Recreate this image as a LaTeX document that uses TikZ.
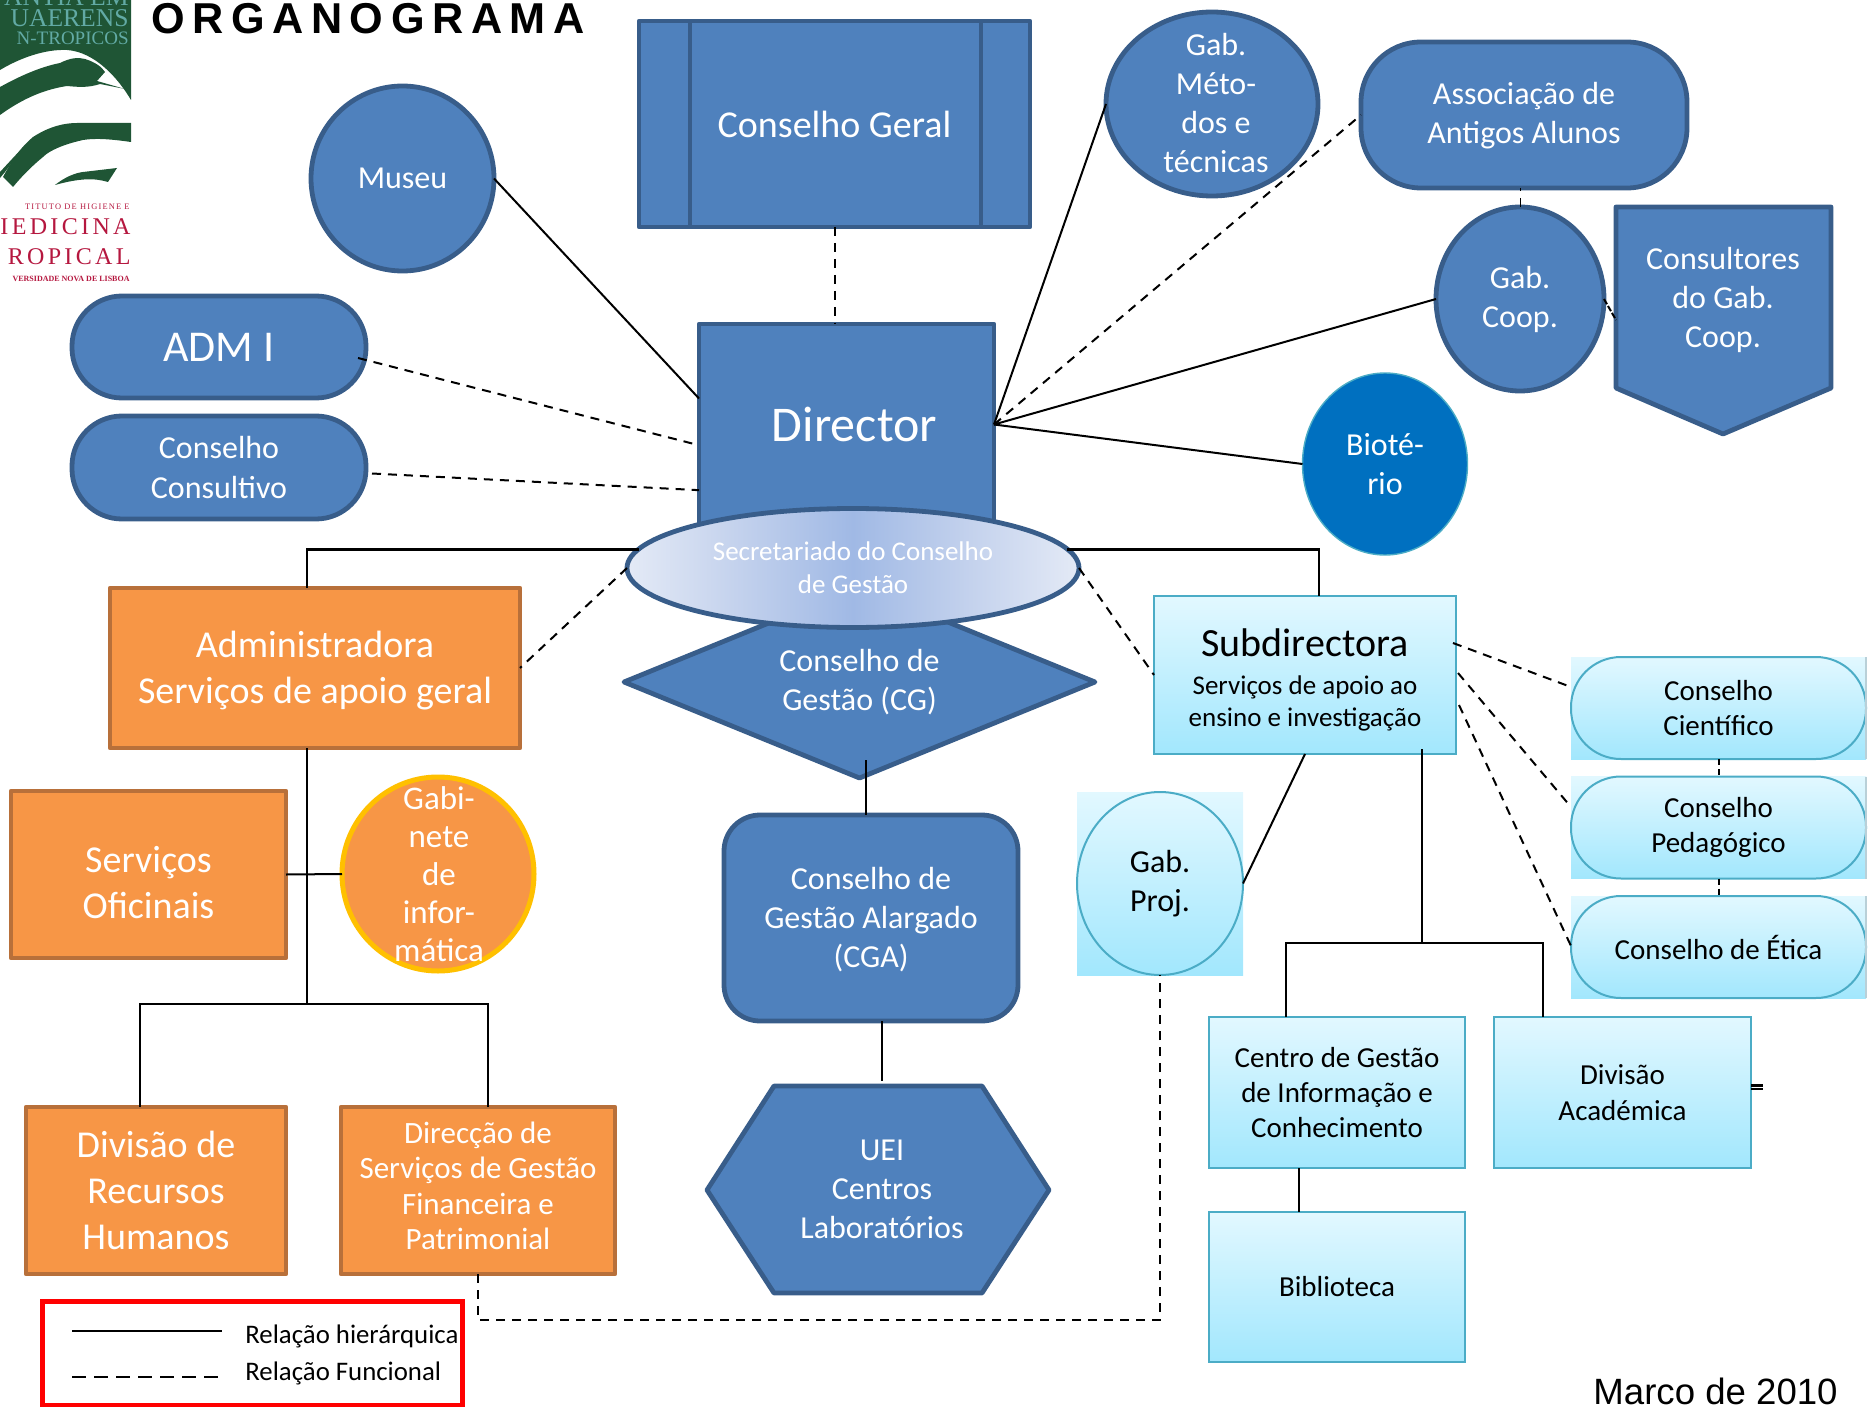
\documentclass[tikz,border=0pt]{standalone}
\usepackage{fontspec}
\setmainfont{Carlito}
\newfontfamily\arialf{Liberation Sans}
\newfontfamily\arialtitle[LetterSpace=17.5]{Liberation Sans}
\newfontfamily\seriff{Liberation Serif}
\newfontfamily\serifs[LetterSpace=14]{Liberation Serif}
\usetikzlibrary{shapes.geometric,calc}
\definecolor{bluefill}{HTML}{4F81BD}
\definecolor{blueedge}{HTML}{385D8A}
\definecolor{orangefill}{HTML}{F79646}
\definecolor{orangeedge}{HTML}{B8703A}
\definecolor{cyanedge}{HTML}{4BACC6}
\definecolor{cyantop}{HTML}{E2F8FF}
\definecolor{cyanbot}{HTML}{A2E7FD}
\definecolor{logogreen}{HTML}{1F5535}
\definecolor{logoteal}{HTML}{62AAA5}
\definecolor{logored}{HTML}{B5173F}
\definecolor{secmid}{HTML}{A0B9E5}
\definecolor{secq}{HTML}{C4D2ED}
\definecolor{secend}{HTML}{E4EAF6}
\definecolor{biofill}{HTML}{0070C0}
\definecolor{infedge}{HTML}{FFC000}
\definecolor{sliver}{HTML}{B9D0D8}
\pgfdeclarehorizontalshading{secshade}{100bp}{color(0bp)=(secend); color(25bp)=(secend); color(37bp)=(secq); color(50bp)=(secmid); color(63bp)=(secq); color(75bp)=(secend); color(100bp)=(secend)}
\newcommand{\fsz}[1]{\fontsize{#1}{\dimexpr #1pt*122/100\relax}\selectfont}
\tikzset{
  px/.style 2 args={minimum width=#1*0.5pt,minimum height=#2*0.5pt,inner sep=0pt,outer sep=0pt},
  bluebox/.style={draw=blueedge,fill=bluefill,line width=2.4pt,text=white,align=center,line join=round},
  orangebox/.style={draw=orangeedge,fill=orangefill,line width=2.2pt,text=white,align=center,line join=round},
  cyanbox/.style={draw=cyanedge,line width=1pt,top color=cyantop,bottom color=cyanbot,text=black,align=center},
  cyanback/.style={top color=cyantop,bottom color=cyanbot},
  cyanring/.style={draw=cyanedge,line width=1pt,text=black,align=center},
  whitetext/.style={text=white,align=center,inner sep=0pt},
  solidline/.style={draw=black,line width=1pt},
  thickline/.style={draw=black,line width=1.4pt},
  dashline/.style={draw=black,line width=1pt,dash pattern=on 4.5pt off 3.5pt},
}
\begin{document}
\begin{tikzpicture}[x=0.5pt,y=-0.5pt,font=\fsz{16}]
\useasboundingbox (0,0) rectangle (1874,1407);
% logo
\begin{scope}
\clip (0,0) rectangle (131,285);
\fill[logogreen] (0,0) -- (131,0) -- (131,100) .. controls (118,78) and (95,52) .. (67,50) .. controls (45,49) and (20,58) .. (0,70) -- cycle;
\fill[logogreen] (0,87) .. controls (20,76) and (40,67) .. (60,63) .. controls (70,58) and (78,57) .. (85,59) .. controls (95,62) and (102,67) .. (105,72) -- (97,81) -- (125,89) -- (100,84) .. controls (88,88) and (78,87) .. (67,86) .. controls (40,90) and (18,102) .. (0,115) -- cycle;
\fill[logogreen] (3,177) .. controls (12,160) and (22,146) .. (33,137) .. controls (50,126) and (65,123) .. (77,123) -- (131,123) -- (131,142) .. controls (110,139) and (95,138) .. (83,140) .. controls (65,144) and (50,150) .. (43,157) .. controls (32,166) and (22,176) .. (13,187) -- cycle;
\fill[logogreen] (0,172) -- (25,145) -- (5,172) -- (0,178) -- cycle;
\fill[logogreen] (55,185) .. controls (65,177) and (75,173) .. (83,172) -- (117,168) -- (108,182) .. controls (95,178) and (80,178) .. (55,185) -- cycle;
\node[anchor=east,text=logoteal,inner sep=0pt,font=\seriff\fontsize{12.8}{13}\selectfont] (lg1) at (129,-3) {ANTIA EM};
\node[anchor=east,text=logoteal,inner sep=0pt,font=\seriff\fontsize{12.8}{13}\selectfont] (lg2) at (129,18) {UAERENS};
\node[anchor=east,text=logoteal,inner sep=0pt,font=\seriff\fontsize{9.5}{10}\selectfont] (lg3) at (129,38) {N-TROPICOS};
\node[anchor=east,text=logored,inner sep=0pt,font=\serifs\fontsize{4.2}{5}\selectfont] (lg4) at (130,207) {TITUTO DE HIGIENE E};
\node[anchor=east,text=logored,inner sep=0pt,font=\serifs\fontsize{12}{13}\selectfont] (lg5) at (131,227) {IEDICINA};
\node[anchor=east,text=logored,inner sep=0pt,font=\serifs\fontsize{12}{13}\selectfont] (lg6) at (131,257) {ROPICAL};
\node[anchor=east,text=logored,inner sep=0pt,font=\seriff\bfseries\fontsize{4}{5}\selectfont] (lg7) at (130,279) {VERSIDADE NOVA DE LISBOA};
\end{scope}
% title and date
\node[anchor=west,inner sep=0pt,font=\arialtitle\bfseries\fontsize{21.6}{24}\selectfont] (title) at (151,19) {ORGANOGRAMA};
\node[anchor=east,inner sep=0pt,font=\arialf\fontsize{18.3}{20}\selectfont] (date) at (1838,1391) {Marco de 2010};
% upper group
\node[bluebox,px={391}{206},font=\fsz{19}] (geral) at (834.5,124) {Conselho Geral};
\draw[blueedge,line width=2.4pt] (690,21) -- (690,227) (981,21) -- (981,227);
\node[bluebox,px={295}{201},font=\fsz{25}] (dir) at (846.5,424.5) {\hspace*{8pt}Director};
\node[bluebox,diamond,aspect=2.45,px={471}{192},font=\fsz{16}] (cg) at (859.5,682) {Conselho de\\Gestão (CG)};
\node[ellipse,draw=blueedge,line width=2.4pt,shading=secshade,text=white,align=center,px={452}{119},font=\fsz{13.5}] (sec) at (853,568) {Secretariado do Conselho\\de Gestão};
\node[bluebox,rounded corners=18pt,px={294}{206}] (cga) at (871,918) {\rule{0pt}{13pt}Conselho de\\Gestão Alargado\\(CGA)};
\fill[bluefill,draw=blueedge,line width=2.4pt,line join=round] (707,1190) -- (774,1086) -- (982,1086) -- (1049,1190) -- (982,1293) -- (774,1293) -- cycle;
\node[whitetext,px={200}{150}] (uei) at (882,1189) {UEI\\Centros\\Laboratórios};
\node[bluebox,ellipse,px={183}{185}] (museu) at (402.5,178.5) {Museu};
\node[bluebox,ellipse,px={212}{184}] (gabmet) at (1212,104) {};
\node[whitetext] (gabmettxt) at (1216,103) {Gab.\\Méto-\\dos e\\técnicas};
\node[bluebox,rounded corners=30pt,px={326}{146}] (assoc) at (1524,115) {\rule{0pt}{12pt}Associação de\\Antigos Alunos};
\node[bluebox,ellipse,px={168}{184}] (gabcoop) at (1520,299) {Gab.\\Coop.};
\fill[bluefill,draw=blueedge,line width=2.4pt,line join=round] (1616,207) -- (1831,207) -- (1831,388) -- (1723,434) -- (1616,388) -- cycle;
\node[whitetext,px={200}{150}] (cons) at (1723,300) {Consultores\\do Gab.\\Coop.};
\node[ellipse,draw=cyanedge,fill=biofill,line width=0.7pt,px={165}{182},text=white,align=center] (bio) at (1385,464) {Bioté-\\rio};
\node[bluebox,rounded corners=25pt,px={294}{102},font=\fsz{22}] (adm) at (219,347) {ADM I};
\node[bluebox,rounded corners=25pt,px={294}{103}] (ccons) at (219,467.5) {Conselho\\Consultivo};
% orange
\node[orangebox,px={410}{160},font=\fsz{19}] (admin) at (315,668) {\rule{0pt}{16pt}Administradora\\Serviços de apoio geral};
\node[orangebox,px={275}{167},font=\fsz{19}] (serv) at (148.5,874.5) {\rule{0pt}{21pt}Serviços\\Oficinais};
\node[ellipse,draw=infedge,fill=orangefill,line width=2.5pt,px={192}{194}] (gabinf) at (438,874) {};
\node[whitetext,font=\fontsize{16.5}{19}\selectfont] (gabinftxt) at (439,874) {Gabi-\\nete\\de\\infor-\\mática};
\node[orangebox,px={260}{167},font=\fsz{19}] (rh) at (156,1190.5) {Divisão de\\Recursos\\Humanos};
\node[orangebox,px={274}{167}] (dsg) at (478,1190.5) {};
\node[whitetext,font=\fontsize{15.5}{17.7}\selectfont] (dsgtxt) at (478,1186) {Direcção de\\Serviços de Gestão\\Financeira e\\Patrimonial};
% cyan
\node[cyanbox,px={302}{158},font=\fontsize{13.5}{16}\selectfont] (sub) at (1305,675) {\rule{0pt}{19pt}{\fsz{20}Subdirectora}\\[3pt]Serviços de apoio ao\\ensino e investigação};
\node[cyanback,px={166}{183}] (projback) at (1160,883.5) {};
\node[cyanring,ellipse,px={166}{183}] (proj) at (1160,883.5) {Gab.\\Proj.};
\node[cyanback,px={295}{102}] (cb1) at (1718.5,708) {};
\node[cyanring,rounded corners=25pt,px={295}{102},font=\fsz{14.5}] (cient) at (1718.5,708) {Conselho\\Científico};
\node[cyanback,px={295}{102}] (cb2) at (1718.5,827.5) {};
\node[cyanring,rounded corners=25pt,px={295}{102},font=\fsz{14.5}] (ped) at (1718.5,827.5) {Conselho\\Pedagógico};
\node[cyanback,px={295}{102}] (cb3) at (1718.5,947) {};
\node[cyanring,rounded corners=25pt,px={295}{102},font=\fsz{14.5}] (etica) at (1718.5,947) {Conselho de Ética};
\draw[sliver,line width=0.8pt] (cb1.north east) -- (cb1.south east) (cb2.north east) -- (cb2.south east) (cb3.north east) -- (cb3.south east);
\node[cyanbox,px={256}{151},font=\fsz{14.5}] (centro) at (1337,1092.5) {Centro de Gestão\\de Informação e\\Conhecimento};
\node[cyanbox,px={257}{151},font=\fsz{14.5}] (acad) at (1622.5,1092.5) {Divisão\\Académica};
\node[cyanbox,px={256}{150},font=\fsz{14.5}] (bibl) at (1337,1287) {Biblioteca};
% legend
\node[draw=red,line width=2.5pt,px={420}{104}] (leg) at (252,1353) {};
\coordinate (ls1) at (72,1331); \coordinate (ls2) at (222,1331);
\coordinate (ld1) at (72,1377); \coordinate (ld2) at (222,1377);
\draw[solidline] (ls1) -- (ls2);
\draw[dashline,dash pattern=on 7pt off 4pt] (ld1) -- (ld2);
\node[anchor=west,inner sep=0pt,font=\fsz{13.4}] (lt1) at (245,1336) {Relação hierárquica};
\node[anchor=west,inner sep=0pt,font=\fsz{13.4}] (lt2) at (245,1373) {Relação Funcional};
% connectors
\draw[dashline] (geral.south) -- (geral.south |- dir.north);
\draw[solidline] (museu.east) -- (dir.170);
\draw[dashline] ([xshift=-4pt,yshift=-5.5pt]adm.east) -- (dir.188);
\draw[dashline] ([xshift=3pt,yshift=-3pt]ccons.east) -- (dir.204);
\draw[solidline] (dir.east) -- (gabmet.west);
\draw[dashline] (dir.east) -- (assoc.west);
\draw[solidline] (dir.east) -- (gabcoop.west);
\draw[solidline] (dir.east) -- (bio.west);
\draw[dashline,line width=0.5pt] (gabcoop.north) -- (gabcoop.north |- assoc.south);
\draw[dashline,dash pattern=on 3pt off 1pt] (gabcoop.east) -- (1616,320);
\draw[thickline] (sec.175) -| ([xshift=-4pt]admin.north);
\draw[thickline] (sec.5) -| ([xshift=7pt]sub.north);
\draw[dashline] (sec.west) -- (admin.east);
\draw[dashline] (sec.east) -- (sub.west);
\draw[solidline] ([yshift=9pt]cg.south -| 866,0) -- (866,815);
\draw[solidline] (cga.south -| 882,0) -- (882,1081);
\coordinate (ltr) at (307,1004);
\draw[solidline] ([xshift=-4pt]admin.south) -- (ltr);
\draw[solidline] (rh.north -| 140,0) |- (ltr) -| (dsg.north -| 488,0);
\draw[solidline] (serv.east) -- (gabinf.west);
\draw[solidline] (sub.south) -- (proj.east);
\coordinate (rtr) at (1422,943);
\draw[thickline] (1422,749) -- (rtr);
\draw[thickline] (centro.north -| 1286,0) |- (rtr) -| (acad.north -| 1543,0);
\draw[solidline] (centro.south -| 1299,0) -- (bibl.north -| 1299,0);
\draw[thickline] ([yshift=1.8pt]acad.east) -- ++(12,0) ([yshift=3.6pt]acad.east) -- ++(12,0);
\draw[dashline] (1453,643) -- (cient.west |- 0,687);
\draw[dashline] (1458,673) -- (ped.west |- 0,807);
\draw[dashline] (1459,705) -- (etica.west |- 0,946);
\draw[dashline,dash pattern=on 3pt off 2pt] (cient.south -| 1719,0) -- (ped.north -| 1719,0);
\draw[dashline,dash pattern=on 3pt off 2pt] (ped.south -| 1719,0) -- (etica.north -| 1719,0);
\draw[dashline] (dsg.south) -- (478,1320) -- (1160,1320) -- (proj.south);
\end{tikzpicture}
\end{document}
